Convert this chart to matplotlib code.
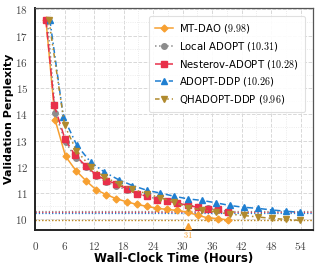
import matplotlib
matplotlib.use("Agg")
import matplotlib.pyplot as plt
import matplotlib.transforms as mtransforms
from matplotlib.ticker import MultipleLocator

plt.rcParams['mathtext.fontset'] = 'cm'
plt.rcParams['font.family'] = 'DejaVu Sans'

# MT-DAO
mt_t = [2.2, 4.1, 6.2, 8.3, 10.3, 12.4, 14.5, 16.5, 18.6, 20.7, 22.7, 24.8, 26.9, 28.9, 31.0, 33.1, 35.1, 37.2, 39.2]
mt_ppl = [17.6, 13.77, 12.40, 11.86, 11.48, 11.13, 10.94, 10.79, 10.67, 10.57, 10.50, 10.42, 10.38, 10.34, 10.28, 10.15, 10.06, 10.03, 9.98]

# Local ADOPT
loc_t = [2.5, 4.1, 6.2, 8.3, 10.3, 12.4, 14.5, 16.5, 18.6, 20.7, 22.7, 24.8, 26.9, 28.9, 31.0, 33.1, 35.1, 37.2, 39.2]
loc_ppl = [17.6, 14.05, 12.93, 12.35, 12.0, 11.65, 11.42, 11.28, 11.12, 10.98, 10.88, 10.78, 10.70, 10.62, 10.55, 10.48, 10.42, 10.36, 10.31]

# Nesterov-ADOPT
nes_t = [2.2, 3.9, 6.1, 8.1, 10.3, 12.4, 14.5, 16.5, 18.6, 20.7, 22.7, 24.8, 26.9, 28.9, 31.0, 33.1, 35.1, 37.2, 39.2]
nes_ppl = [17.6, 14.34, 13.05, 12.45, 12.04, 11.70, 11.48, 11.36, 11.17, 10.98, 10.88, 10.73, 10.69, 10.63, 10.53, 10.46, 10.40, 10.38, 10.28]

# ADOPT-DDP
ddp_t = [3.0, 5.75, 8.5, 11.3, 14.1, 17.0, 19.8, 22.7, 25.5, 28.3, 31.1, 34.0, 36.8, 39.6, 42.4, 45.3, 48.1, 51.0, 53.8]
ddp_ppl = [17.6, 13.9, 12.82, 12.18, 11.80, 11.51, 11.29, 11.11, 11.0, 10.88, 10.78, 10.72, 10.63, 10.53, 10.46, 10.42, 10.36, 10.31, 10.27]

# QHADOPT-DDP
qh_t = [2.8, 6.0, 8.4, 11.3, 14.1, 17.0, 19.8, 22.7, 25.5, 28.3, 31.1, 34.0, 36.8, 39.6, 42.4, 45.3, 48.1, 51.0, 53.8]
qh_ppl = [17.6, 13.58, 12.62, 12.0, 11.62, 11.35, 11.15, 10.98, 10.82, 10.66, 10.45, 10.36, 10.28, 10.2, 10.15, 10.09, 10.04, 10.0, 9.96]

names = ['MT-DAO', 'Local ADOPT', 'Nesterov-ADOPT', 'ADOPT-DDP', 'QHADOPT-DDP']
finals = [9.98, 10.31, 10.28, 10.26, 9.96]
colors = ['#f7a031', '#8c8c8c', '#e8304a', '#1f7fd1', '#b08a2e']
markers = ['D', 'o', 's', '^', 'v']
styles = ['-', ':', (0, (5, 3)), (0, (4, 2, 1, 2)), (0, (3, 2, 1, 2, 1, 2))]
times = [mt_t, loc_t, nes_t, ddp_t, qh_t]
ppls = [mt_ppl, loc_ppl, nes_ppl, ddp_ppl, qh_ppl]
hline_order = [1, 2, 0, 3, 4]
target_time = 31

fig = plt.figure(figsize=(3.19, 2.67), dpi=100)
ax = fig.add_axes([0.110, 0.139, 0.871, 0.831])

for name, fin, c, m, ls, t, p in zip(names, finals, colors, markers, styles, times, ppls):
    ax.plot(t, p, color=c, marker=m, linestyle=ls, lw=1.1, ms=4 if m != 'D' else 3.5,
            label=f'{name} (${fin:.2f}$)', zorder=3)

for i in hline_order:
    ax.axhline(finals[i], color=colors[i], linestyle=':', lw=0.9, zorder=2)

ax.set_xlim(0, 56.5)
ax.set_ylim(9.6, 18.05)
ax.xaxis.set_minor_locator(MultipleLocator(3))
ax.yaxis.set_minor_locator(MultipleLocator(0.5))
ax.set_xticks(range(0, 55, 6))
ax.set_xticklabels([f'${v}$' for v in range(0, 55, 6)], fontsize=8, color='#444444')
ax.set_yticks(range(10, 19))
ax.set_yticklabels([f'${v}$' for v in range(10, 19)], fontsize=8, color='#444444')
ax.tick_params(axis='x', which='both', length=0, pad=7)
ax.tick_params(axis='y', which='both', length=0, pad=5)

ax.grid(which='major', color='#d8d8d8', linestyle='--', lw=0.7)
ax.grid(which='minor', color='#e6e6e6', linestyle=':', lw=0.6)
ax.set_axisbelow(True)

for s in ['left', 'bottom']:
    ax.spines[s].set_color('#222222')
    ax.spines[s].set_linewidth(1.4)
for s in ['top', 'right']:
    ax.spines[s].set_color('#555555')
    ax.spines[s].set_linewidth(0.9)

ax.set_xlabel('Wall-Clock Time (Hours)', fontsize=8.5, fontweight='bold', labelpad=0)
ax.set_ylabel('Validation Perplexity', fontsize=8, fontweight='bold')
ax.yaxis.set_label_coords(-0.077, 0.5)

# marker for the time MT-DAO reaches the baselines' final perplexity
up = mtransforms.offset_copy(ax.transData, fig=fig, y=3, units='points')
ax.plot([target_time], [9.6], marker='^', color=colors[0], ms=5, clip_on=False, zorder=5,
        linestyle='none', transform=up)
ax.annotate(f'${target_time}$', xy=(target_time, 9.6), xytext=(0, -4), textcoords='offset points',
            ha='center', va='center', fontsize=6, color=colors[0], annotation_clip=False)

leg = ax.legend(loc='upper right', fontsize=7.3, handlelength=1.8, labelspacing=0.45,
                borderpad=0.6, handletextpad=0.6, fancybox=True, framealpha=0.9,
                bbox_to_anchor=(0.99, 0.985))
leg.get_frame().set_edgecolor('#dddddd')
leg.get_frame().set_linewidth(0.8)

fig.savefig('out.png', dpi=100)
